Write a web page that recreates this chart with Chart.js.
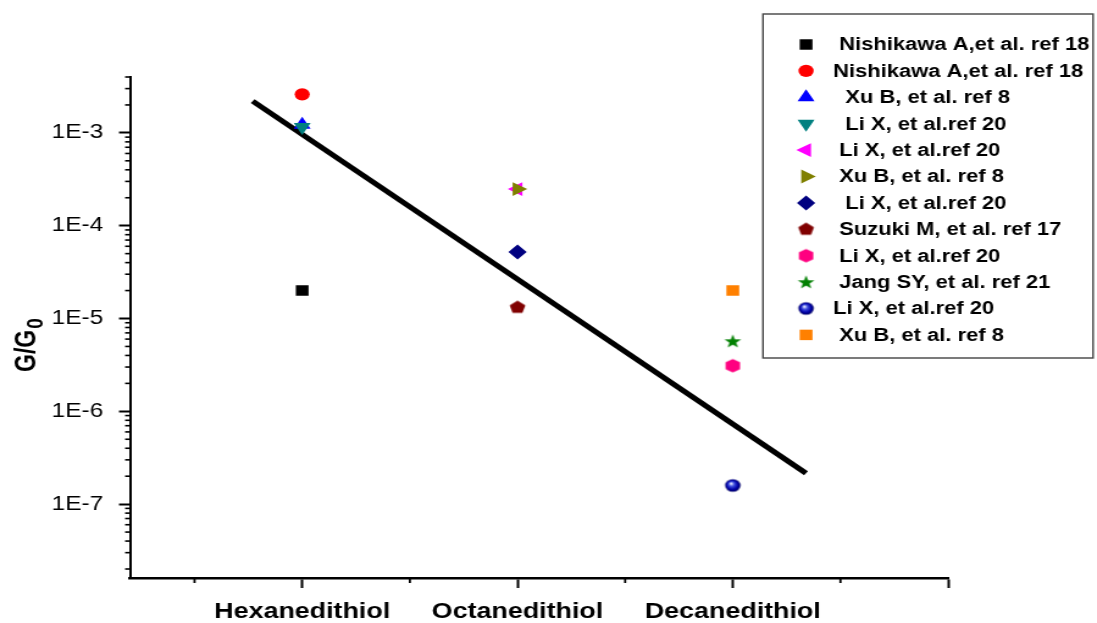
<!DOCTYPE html>
<html>
<head>
    <title>G/G0 of alkanedithiols</title>
    <script src="https://cdn.jsdelivr.net/npm/chart.js"></script>
    <style>
        html, body { margin: 0; padding: 0; background: #fff; overflow: hidden; }
        /* the reference picture is stretched sideways, so the canvas is too */
        #wrap { position: absolute; left: 0; top: 0; width: 899px; height: 623px;
                transform: scaleX(1.2202); transform-origin: 0 0; }
    </style>
</head>
<body>
    <div id="wrap"><canvas id="myChart"></canvas></div>

    <script>
        const categories = ['Hexanedithiol', 'Octanedithiol', 'Decanedithiol'];

        const seriesLabels = [
            ' Nishikawa A,et al. ref 18',
            'Nishikawa A,et al. ref 18',
            '  Xu B, et al. ref 8',
            '  Li X, et al.ref 20',
            ' Li X, et al.ref 20',
            ' Xu B, et al. ref 8',
            '  Li X, et al.ref 20',
            ' Suzuki M, et al. ref 17',
            ' Li X, et al.ref 20',
            ' Jang SY, et al. ref 21',
            'Li X, et al.ref 20',
            ' Xu B, et al. ref 8'
        ];
        // 1 = Hexanedithiol, 2 = Octanedithiol, 3 = Decanedithiol
        const seriesCategory = [1, 1, 1, 1, 2, 2, 2, 2, 3, 3, 3, 3];
        const seriesValues = [2.0e-5, 2.6e-3, 1.22e-3, 1.16e-3, 2.48e-4, 2.48e-4, 5.2e-5, 1.32e-5, 3.1e-6, 5.7e-6, 1.59e-7, 2.0e-5];

        // straight fit line, end points
        const fitX = [0.77, 3.34];
        const fitY = [2.2e-3, 2.15e-7];

        const yTickValues = [1e-7, 1e-6, 1e-5, 1e-4, 1e-3];
        const yTickLabels = ['1E-7', '1E-6', '1E-5', '1E-4', '1E-3'];

        const FONT = "'Liberation Sans', Arial, sans-serif";

        // little canvases for the marker shapes chart.js doesn't have
        function polyMarker(color, sides, r, startAngle) {
            const c = document.createElement('canvas');
            c.width = c.height = 18;
            const g = c.getContext('2d');
            g.fillStyle = color;
            g.beginPath();
            for (let i = 0; i < sides; i++) {
                const a = startAngle + i * 2 * Math.PI / sides;
                g.lineTo(9 + r * Math.cos(a), 9 + r * Math.sin(a));
            }
            g.closePath();
            g.fill();
            return c;
        }
        function starMarker(color, ro, ri) {
            const c = document.createElement('canvas');
            c.width = c.height = 18;
            const g = c.getContext('2d');
            g.fillStyle = color;
            g.beginPath();
            for (let i = 0; i < 10; i++) {
                const a = -Math.PI / 2 + i * Math.PI / 5;
                const r = i % 2 ? ri : ro;
                g.lineTo(9 + r * Math.cos(a), 9.5 + r * Math.sin(a));
            }
            g.closePath();
            g.fill();
            return c;
        }
        function ballMarker(r) {
            const c = document.createElement('canvas');
            c.width = c.height = 18;
            const g = c.getContext('2d');
            const grad = g.createRadialGradient(7.5, 7, 0.5, 9, 9, r);
            grad.addColorStop(0, '#e8ecff');
            grad.addColorStop(0.3, '#4050e0');
            grad.addColorStop(0.7, '#0000a8');
            grad.addColorStop(1, '#000060');
            g.fillStyle = grad;
            g.beginPath();
            g.arc(9, 9, r, 0, Math.PI * 2);
            g.fill();
            return c;
        }

        const markers = [
            { color: '#000000', style: 'rect', radius: 7.4, rotation: 0 },
            { color: '#ff0000', style: 'circle', radius: 6.2, rotation: 0 },
            { color: '#0000ff', style: 'triangle', radius: 8, rotation: 0 },
            { color: '#008080', style: 'triangle', radius: 8, rotation: 180 },
            { color: '#ff00ff', style: 'triangle', radius: 8, rotation: -90 },
            { color: '#808000', style: 'triangle', radius: 8, rotation: 90 },
            { color: '#000080', style: 'rectRot', radius: 7.5, rotation: 0 },
            { color: '#800000', style: polyMarker('#800000', 5, 6.8, -Math.PI / 2), radius: 7, rotation: 0 },
            { color: '#ff0080', style: polyMarker('#ff0080', 6, 6.8, -Math.PI / 2), radius: 7, rotation: 0 },
            { color: '#008000', style: starMarker('#008000', 7.2, 2.9), radius: 7, rotation: 0 },
            { color: '#0000a0', style: ballMarker(6.3), radius: 7, rotation: 0 },
            { color: '#ff8000', style: 'rect', radius: 7.4, rotation: 0 }
        ];

        const datasets = seriesLabels.map((label, i) => ({
            label: label,
            data: [{ x: seriesCategory[i], y: seriesValues[i] }],
            pointStyle: markers[i].style,
            pointRadius: markers[i].radius,
            rotation: markers[i].rotation,
            backgroundColor: markers[i].color,
            borderColor: markers[i].color,
            pointBorderWidth: 0,
            order: 20 - i
        }));
        datasets.push({
            label: 'fit',
            data: fitX.map((x, i) => ({ x: x, y: fitY[i] })),
            showLine: true,
            borderColor: '#000',
            borderWidth: 5,
            pointRadius: 0,
            order: 100
        });

        const extras = {
            id: 'extras',
            afterDraw(chart) {
                const { ctx, chartArea: a } = chart;
                const x = chart.scales.x, y = chart.scales.y;
                ctx.save();
                ctx.strokeStyle = '#000';

                // minor ticks
                ctx.lineWidth = 1.6;
                for (let e = -8; e <= -3; e++) {
                    for (let m = 2; m <= 9; m++) {
                        const v = m * Math.pow(10, e);
                        if (v < y.min * 0.999 || v > y.max * 1.001) continue;
                        const py = y.getPixelForValue(v);
                        ctx.beginPath();
                        ctx.moveTo(a.left, py);
                        ctx.lineTo(a.left - 4, py);
                        ctx.stroke();
                    }
                }
                ctx.lineWidth = 1.8;
                [0.5, 1.5, 2.5, 3.5].forEach(v => {
                    const px = x.getPixelForValue(v);
                    ctx.beginPath();
                    ctx.moveTo(px, a.bottom);
                    ctx.lineTo(px, a.bottom + 5);
                    ctx.stroke();
                });

                // y title G/G0
                ctx.fillStyle = '#000';
                ctx.translate(29, 372);
                ctx.rotate(-Math.PI / 2);
                ctx.textBaseline = 'alphabetic';
                ctx.textAlign = 'left';
                ctx.font = 'bold 23px ' + FONT;
                ctx.fillText('G/G', 0, 0);
                const w = ctx.measureText('G/G').width;
                ctx.font = 'bold 19px ' + FONT;
                ctx.fillText('0', w + 1, 6);
                ctx.restore();

                // legend box
                ctx.save();
                ctx.strokeStyle = '#444';
                ctx.lineWidth = 1.4;
                ctx.strokeRect(625.3, 14, 270.5, 344);
                ctx.font = 'bold 18px ' + FONT;
                ctx.textBaseline = 'middle';
                ctx.textAlign = 'left';
                seriesLabels.forEach((label, i) => {
                    const cy = 44.5 + i * 26.4;
                    ctx.fillStyle = markers[i].color;
                    Chart.helpers.drawPoint(ctx, {
                        pointStyle: markers[i].style,
                        radius: markers[i].radius,
                        rotation: markers[i].rotation,
                        borderWidth: 0
                    }, 660.6, cy);
                    ctx.fillStyle = '#000';
                    ctx.fillText(label, 682.7, cy + 1);
                });
                ctx.restore();
            }
        };

        const ctx = document.getElementById('myChart').getContext('2d');
        const chart = new Chart(ctx, {
            type: 'scatter',
            data: { datasets: datasets },
            options: {
                responsive: true,
                maintainAspectRatio: false,
                animation: false,
                events: [],
                layout: { padding: { left: 0, right: 122, top: 77, bottom: 0 } },
                plugins: { legend: { display: false }, tooltip: { enabled: false } },
                scales: {
                    x: {
                        type: 'linear',
                        min: 0.2,
                        max: 4,
                        border: { color: '#000', width: 2.5 },
                        grid: { drawOnChartArea: false, tickLength: 10, tickWidth: 2, tickColor: '#000' },
                        afterBuildTicks: s => { s.ticks = [1, 2, 3, 4].map(v => ({ value: v })); },
                        ticks: {
                            autoSkip: false,
                            maxRotation: 0,
                            padding: 11,
                            color: '#000',
                            font: { family: FONT, size: 22, weight: 'bold' },
                            callback: v => categories[v - 1] || ''
                        },
                        afterFit: s => { s.height = 45; }
                    },
                    y: {
                        type: 'logarithmic',
                        min: 1.6e-8,
                        max: 4e-3,
                        border: { color: '#000', width: 2 },
                        grid: { drawOnChartArea: false, tickLength: 9, tickWidth: 2, tickColor: '#000' },
                        afterBuildTicks: s => { s.ticks = yTickValues.map(v => ({ value: v })); },
                        ticks: {
                            autoSkip: false,
                            padding: 13,
                            color: '#000',
                            font: { family: FONT, size: 20 },
                            callback: (v, i) => yTickLabels[i]
                        },
                        afterFit: s => { s.width = 106.5; }
                    }
                }
            },
            plugins: [extras]
        });
    </script>
</body>
</html>
